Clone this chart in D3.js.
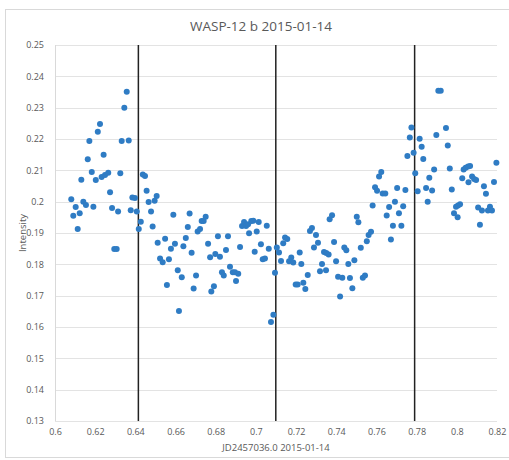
<!DOCTYPE html>
<html>
<head>
<meta charset="utf-8">
<script src="https://cdn.jsdelivr.net/npm/d3@7"></script>
<style>
  body { margin: 0; background: #fff; }
  text { font-family: "Open Sans", sans-serif; fill: #595959; }
</style>
</head>
<body>
<div id="chart"></div>
<script>
// time (fraction of JD2457036.0) and measured intensity
const jd = [
  0.6081, 0.6091, 0.6103, 0.6113, 0.6123, 0.6131, 0.6141, 0.6154, 0.6163, 0.6171,
  0.6183, 0.6191, 0.6203, 0.6213, 0.6224, 0.6232, 0.6242, 0.6249, 0.6265, 0.6274,
  0.6284, 0.6295, 0.6307, 0.6314, 0.6325, 0.6332, 0.6345, 0.6357, 0.6367, 0.6377,
  0.6385, 0.6398, 0.6407, 0.6417, 0.6427, 0.6437, 0.6448, 0.6456, 0.6466, 0.6478,
  0.6486, 0.6496, 0.6506, 0.6511, 0.6523, 0.6536, 0.6548, 0.6557, 0.6567, 0.6577,
  0.6589, 0.6597, 0.6611, 0.6617, 0.6631, 0.6639, 0.6651, 0.6661, 0.6670, 0.6680,
  0.6690, 0.6702, 0.6710, 0.6722, 0.6730, 0.6740, 0.6750, 0.6762, 0.6772, 0.6778,
  0.6791, 0.6798, 0.6811, 0.6821, 0.6831, 0.6840, 0.6851, 0.6861, 0.6871, 0.6885,
  0.6896, 0.6901, 0.6912, 0.6921, 0.6931, 0.6941, 0.6951, 0.6961, 0.6966, 0.6977,
  0.6987, 0.6994, 0.7004, 0.7014, 0.7025, 0.7034, 0.7045, 0.7054, 0.7064, 0.7075,
  0.7087, 0.7095, 0.7104, 0.7115, 0.7125, 0.7136, 0.7145, 0.7156, 0.7165, 0.7176,
  0.7186, 0.7198, 0.7208, 0.7218, 0.7226, 0.7236, 0.7246, 0.7258, 0.7269, 0.7279,
  0.7289, 0.7299, 0.7309, 0.7319, 0.7329, 0.7339, 0.7350, 0.7349, 0.7362, 0.7367,
  0.7379, 0.7389, 0.7399, 0.7409, 0.7419, 0.7430, 0.7440, 0.7450, 0.7460, 0.7468,
  0.7480, 0.7490, 0.7502, 0.7510, 0.7522, 0.7532, 0.7543, 0.7552, 0.7561, 0.7573,
  0.7581, 0.7593, 0.7603, 0.7613, 0.7624, 0.7631, 0.7644, 0.7651, 0.7663, 0.7672,
  0.7682, 0.7692, 0.7703, 0.7712, 0.7724, 0.7733, 0.7744, 0.7754, 0.7766, 0.7774,
  0.7785, 0.7793, 0.7805, 0.7815, 0.7825, 0.7833, 0.7847, 0.7855, 0.7863, 0.7877,
  0.7887, 0.7898, 0.7908, 0.7920, 0.7946, 0.7955, 0.7965, 0.7975, 0.7986, 0.7996,
  0.8006, 0.8004, 0.8016, 0.8027, 0.8034, 0.8044, 0.8056, 0.8058, 0.8066, 0.8076,
  0.8086, 0.8096, 0.8106, 0.8115, 0.8125, 0.8135, 0.8145, 0.8155, 0.8165, 0.8175,
  0.8185, 0.8197
];
const intensity = [
  0.2008, 0.1955, 0.1983, 0.1913, 0.1963, 0.2070, 0.2000, 0.1989, 0.2135, 0.2194,
  0.2095, 0.1984, 0.2069, 0.2223, 0.2248, 0.2079, 0.2150, 0.2085, 0.2092, 0.2030,
  0.1980, 0.1849, 0.1849, 0.1969, 0.2091, 0.2194, 0.2300, 0.2351, 0.2195, 0.1973,
  0.2013, 0.2012, 0.1969, 0.1913, 0.1936, 0.2087, 0.2082, 0.2035, 0.1999, 0.1969,
  0.1921, 0.2003, 0.2018, 0.1869, 0.1819, 0.1807, 0.1882, 0.1734, 0.1816, 0.1850,
  0.1958, 0.1866, 0.1781, 0.1651, 0.1759, 0.1858, 0.1884, 0.1919, 0.1962, 0.1837,
  0.1723, 0.1764, 0.1905, 0.1913, 0.1938, 0.1938, 0.1952, 0.1866, 0.1823, 0.1713,
  0.1730, 0.1833, 0.1890, 0.1824, 0.1775, 0.1764, 0.1846, 0.1890, 0.1792, 0.1775,
  0.1775, 0.1747, 0.1770, 0.1855, 0.1922, 0.1935, 0.1922, 0.1928, 0.1899, 0.1938,
  0.1939, 0.1840, 0.1905, 0.1935, 0.1864, 0.1816, 0.1819, 0.1923, 0.1850, 0.1616,
  0.1639, 0.1773, 0.1854, 0.1838, 0.1811, 0.1867, 0.1886, 0.1881, 0.1810, 0.1822,
  0.1806, 0.1736, 0.1736, 0.1838, 0.1801, 0.1741, 0.1721, 0.1766, 0.1906, 0.1916,
  0.1854, 0.1894, 0.1869, 0.1778, 0.1801, 0.1839, 0.1836, 0.1781, 0.1831, 0.1944,
  0.1957, 0.1871, 0.1810, 0.1760, 0.1697, 0.1757, 0.1854, 0.1845, 0.1801, 0.1756,
  0.1724, 0.1813, 0.1952, 0.1934, 0.1853, 0.1757, 0.1764, 0.1874, 0.1894, 0.1904,
  0.1988, 0.2046, 0.2035, 0.2080, 0.2095, 0.2026, 0.2026, 0.1956, 0.1983, 0.1879,
  0.1923, 0.2000, 0.2044, 0.1963, 0.1923, 0.1985, 0.2037, 0.2146, 0.2205, 0.2237,
  0.2156, 0.2091, 0.2033, 0.2201, 0.2175, 0.2136, 0.2044, 0.2000, 0.2076, 0.2036,
  0.2103, 0.2213, 0.2354, 0.2354, 0.2235, 0.2179, 0.2106, 0.2039, 0.1963, 0.1984,
  0.1988, 0.1950, 0.1992, 0.2075, 0.2103, 0.2108, 0.2112, 0.2062, 0.2114, 0.2080,
  0.2072, 0.2069, 0.1981, 0.1926, 0.1972, 0.2049, 0.2025, 0.1972, 0.1984, 0.1972,
  0.2063, 0.2124
];
// transit contact markers
const markers = [0.6415, 0.7099, 0.7790];
const xTicks = [0.6, 0.62, 0.64, 0.66, 0.68, 0.7, 0.72, 0.74, 0.76, 0.78, 0.8, 0.82];
const yTicks = [0.13, 0.14, 0.15, 0.16, 0.17, 0.18, 0.19, 0.2, 0.21, 0.22, 0.23, 0.24, 0.25];

const width = 509, height = 460;
const margin = { top: 45, right: 12, bottom: 39, left: 55 };

const svg = d3.select('#chart')
  .append('svg')
  .attr('width', width)
  .attr('height', height);

// chart frame
svg.append('rect')
  .attr('x', 5.5).attr('y', 9.5)
  .attr('width', 520).attr('height', 448)
  .attr('fill', 'none')
  .attr('stroke', '#d9d9d9');

const x = d3.scaleLinear()
  .domain([0.6, 0.82])
  .range([margin.left, width - margin.right]);

const y = d3.scaleLinear()
  .domain([0.13, 0.25])
  .range([height - margin.bottom, margin.top]);

// horizontal grid
svg.append('g')
  .selectAll('line')
  .data(yTicks)
  .join('line')
  .attr('x1', x(0.6)).attr('x2', x(0.82))
  .attr('y1', d => Math.round(y(d)) + 0.5)
  .attr('y2', d => Math.round(y(d)) + 0.5)
  .attr('stroke', '#e3e3e3');

// left axis line
svg.append('line')
  .attr('x1', Math.round(x(0.6)) + 0.5).attr('x2', Math.round(x(0.6)) + 0.5)
  .attr('y1', y(0.25)).attr('y2', y(0.13))
  .attr('stroke', '#d9d9d9');

const yAxis = svg.append('g')
  .attr('transform', `translate(${x(0.6) - 8},0)`)
  .call(d3.axisLeft(y).tickValues(yTicks).tickSize(0).tickFormat(d3.format('')));
yAxis.select('.domain').remove();
yAxis.selectAll('text').attr('font-size', 9).attr('fill', '#595959');

const xAxis = svg.append('g')
  .attr('transform', `translate(0,${y(0.13) + 5})`)
  .call(d3.axisBottom(x).tickValues(xTicks).tickSize(0).tickFormat(d3.format('')));
xAxis.select('.domain').remove();
xAxis.selectAll('text').attr('font-size', 9).attr('fill', '#595959');

// vertical marker lines
svg.append('g')
  .selectAll('line')
  .data(markers)
  .join('line')
  .attr('x1', d => x(d)).attr('x2', d => x(d))
  .attr('y1', y(0.25)).attr('y2', y(0.13))
  .attr('stroke', '#222')
  .attr('stroke-width', 1.5);

// points
svg.append('g')
  .selectAll('circle')
  .data(d3.zip(jd, intensity))
  .join('circle')
  .attr('cx', d => x(d[0]))
  .attr('cy', d => y(d[1]))
  .attr('r', 3)
  .attr('fill', '#2f7cc4');

svg.append('text')
  .attr('x', 261).attr('y', 31)
  .attr('text-anchor', 'middle')
  .attr('font-size', 13.5)
  .text('WASP-12 b 2015-01-14');

svg.append('text')
  .attr('x', (x(0.6) + x(0.82)) / 2).attr('y', 451)
  .attr('text-anchor', 'middle')
  .attr('font-size', 9.5)
  .text('JD2457036.0 2015-01-14');

svg.append('text')
  .attr('transform', `translate(26,${(y(0.13) + y(0.25)) / 2}) rotate(-90)`)
  .attr('text-anchor', 'middle')
  .attr('font-size', 9.5)
  .text('Intensity');
</script>
</body>
</html>
